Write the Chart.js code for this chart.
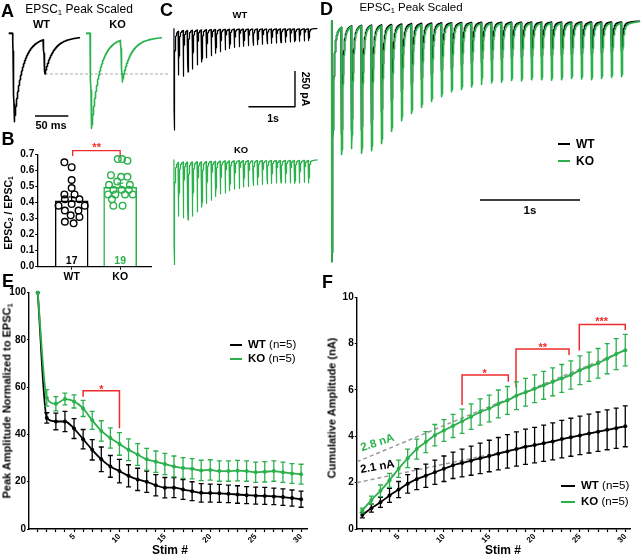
<!DOCTYPE html>
<html>
<head>
<meta charset="utf-8">
<script src="https://cdn.jsdelivr.net/npm/chart.js@4.4.1/dist/chart.umd.min.js"></script>
<style>
  body { margin: 0; background: #fff; }
  #fig { position: relative; width: 642px; height: 558px; overflow: hidden; font-family: "Liberation Sans", Arial, sans-serif; color: #000; }
  #fig canvas { position: absolute; }
  .t { position: absolute; white-space: nowrap; line-height: 1; transform: translate(-50%, -50%); }
  .t sub { font-size: 65%; line-height: 0; vertical-align: -0.25em; }
  .lg { position: absolute; height: 2px; }
</style>
</head>
<body>
<div id="fig"></div>
<script>
// ---- data ----
const stims = [1, 2, 3, 4, 5, 6, 7, 8, 9, 10, 11, 12, 13, 14, 15, 16, 17, 18, 19, 20, 21, 22, 23, 24, 25, 26, 27, 28, 29, 30];
const groups = ['WT', 'KO'];

// E: peak amplitude normalised to EPSC1 (%), mean and sem
const wtNorm = [100, 47, 45.5, 45.5, 42.5, 38, 33.5, 29.5, 26.5, 24.5, 22.5, 21, 20, 18.5, 17.5, 17.5, 16.7, 16, 15.3, 15.2, 15.1, 14.9, 14.6, 14.3, 14.1, 14, 13.8, 13.5, 13.1, 12.6];
const koNorm = [100, 55.5, 53, 55, 54, 51, 46, 41.5, 38.5, 36, 33.5, 31.5, 29.5, 28.5, 27.5, 26.5, 25.8, 25.5, 24.8, 25, 24.5, 24.5, 24.7, 24.5, 24, 24.2, 24.5, 24, 23.5, 23.2];
const wtNormSem = [0, 2.2, 3.5, 4.3, 4.2, 4.1, 4.3, 5.2, 4.6, 5, 4.7, 4.7, 4.5, 4.5, 4.3, 4.2, 4.2, 4, 3.9, 3.8, 3.8, 3.7, 3.7, 3.6, 3.6, 3.6, 3.5, 3.5, 3.4, 3.4];
const koNormSem = [0, 3.5, 3, 2.5, 2.8, 3.4, 3.8, 4.3, 4.3, 4.8, 4.6, 4.6, 4.6, 4.5, 4.5, 4.4, 4.4, 4.3, 4.3, 4.3, 4.3, 4.3, 4.3, 4.3, 4.3, 4.3, 4.3, 4.3, 4.2, 4.2];

// F: cumulative amplitude (nA)
const wtCum = [0.6, 0.9, 1.15, 1.45, 1.7, 1.95, 2.15, 2.3, 2.45, 2.6, 2.75, 2.85, 2.95, 3.05, 3.15, 3.25, 3.35, 3.45, 3.55, 3.62, 3.7, 3.78, 3.88, 3.96, 4.04, 4.12, 4.2, 4.28, 4.35, 4.43];
const koCum = [0.8, 1.25, 1.65, 2.1, 2.6, 3.05, 3.45, 3.75, 4.05, 4.25, 4.45, 4.65, 4.85, 5.05, 5.2, 5.4, 5.55, 5.75, 5.9, 6.05, 6.2, 6.35, 6.5, 6.65, 6.85, 7.0, 7.15, 7.35, 7.55, 7.72];
const wtCumSem = [0.12, 0.17, 0.22, 0.3, 0.35, 0.4, 0.45, 0.5, 0.52, 0.55, 0.57, 0.6, 0.63, 0.66, 0.68, 0.7, 0.72, 0.74, 0.76, 0.77, 0.78, 0.8, 0.81, 0.82, 0.83, 0.84, 0.85, 0.86, 0.87, 0.88];
const koCumSem = [0.1, 0.17, 0.25, 0.3, 0.37, 0.4, 0.43, 0.45, 0.46, 0.47, 0.5, 0.52, 0.55, 0.57, 0.58, 0.6, 0.6, 0.6, 0.6, 0.6, 0.6, 0.6, 0.6, 0.61, 0.62, 0.63, 0.64, 0.65, 0.67, 0.68];
// linear back-extrapolation of the late phase (stim #, nA)
const fitX = [0.4, 30];
const wtFit = [2.0, 4.45];
const koFit = [2.9, 7.72];

// B: paired pulse ratio
const barMeans = [0.41, 0.495];
const barSem = [0.025, 0.025];
const counts = [17, 19];
const wtRatio = [0.65, 0.62, 0.54, 0.49, 0.45, 0.45, 0.42, 0.42, 0.39, 0.38, 0.38, 0.35, 0.35, 0.32, 0.31, 0.28, 0.27];
const wtJitter = [-0.15, 0, 0, 0, -0.15, 0.06, -0.14, 0.16, 0, -0.27, 0.27, -0.14, 0.14, -0.02, 0.16, -0.14, 0.04];
const koRatio = [0.67, 0.67, 0.66, 0.57, 0.56, 0.56, 0.53, 0.51, 0.51, 0.48, 0.48, 0.48, 0.45, 0.45, 0.45, 0.45, 0.42, 0.38, 0.38];
const koJitter = [-0.05, 0.04, 0.15, -0.19, 0.02, 0.15, -0.06, -0.23, 0.2, -0.14, 0.03, 0.18, -0.25, -0.1, 0.1, 0.26, -0.17, -0.14, 0.05];

// A: paired pulse peaks (relative to WT EPSC1)
const aPeaksWT = [1.0, 0.46];
const aPeaksKO = [1.075, 0.55];

// C: single train peaks (pA)
const cPeaksWT = [712, 327, 335, 306, 285, 256, 235, 206, 192, 174, 164, 150, 140, 133, 128, 125, 121, 118, 114, 111, 108, 105, 103, 100, 97, 95, 93, 90, 88, 86];
const cPeaksKO = [740, 396, 407, 422, 396, 366, 333, 307, 285, 259, 241, 233, 218, 207, 202, 192, 189, 181, 178, 174, 170, 167, 164, 163, 163, 163, 167, 163, 159, 163];

// significance brackets [x, y]
const sigB = [[0.02, 0.69], [0.02, 0.723], [1, 0.723], [1, 0.69]];
const sigE = [[6, 56], [6, 58.5], [10, 58.5], [10, 42.6]];
const sigF1 = [[12, 5.35], [12, 6.65], [17.1, 6.65], [17.1, 6.36]];
const sigF2 = [[17.95, 6.12], [17.95, 7.77], [23.8, 7.77], [23.8, 7.51]];
const sigF3 = [[24.93, 7.7], [24.93, 8.83], [30, 8.83], [30, 8.59]];

const GREEN = '#2ab14c';
const RED = '#ee2b2b';
const FONT = '"Liberation Sans", Arial, sans-serif';

Chart.defaults.font.family = FONT;
Chart.defaults.color = '#000';

// ---- EPSC waveform (rise + fast/slow decay) ----
const RISE = 2.5, TAU_FAST = 12, TAU_SLOW = 90, SLOW = 0.08;

function kernel(t) {
    if (t < 0) return 0;
    if (t < RISE) return t / RISE;
    const u = t - RISE;
    return (1 - SLOW) * Math.exp(-u / TAU_FAST) + SLOW * Math.exp(-u / TAU_SLOW);
}

// peaks are the absolute levels reached, residual current is taken off each step
function buildTrace(peaks, onset, isi, tEnd, dt) {
    const starts = peaks.map((p, i) => onset + i * isi);
    const amps = [];
    const level = t => amps.reduce((s, a, j) => s + a * kernel(t - starts[j]), 0);
    peaks.forEach((p, i) => { amps[i] = Math.max(p - level(starts[i] + RISE), 0); });
    const times = [];
    for (let t = onset; t <= tEnd; t += dt) times.push(t);
    starts.forEach(s => times.push(s, s + RISE));
    times.sort((a, b) => a - b);
    return times.map(t => ({ x: t, y: -level(t) }));
}

const pts = (xs, ys) => xs.map((x, i) => ({ x, y: ys[i] }));
const pairs = arr => arr.map(p => ({ x: p[0], y: p[1] }));

// ---- plugins ----
const errorBars = {
    id: 'errorBars',
    beforeDatasetDraw(chart, args) {
        const ds = chart.data.datasets[args.index];
        if (!ds.errors) return;
        const { ctx, scales: { x, y } } = chart;
        const cap = ds.capHalf || 2.5;
        ctx.save();
        ctx.lineWidth = 1.3;
        ds.data.forEach((p, i) => {
            const e = ds.errors[i];
            if (!e) return;
            const c = ds.errColor || ds.borderColor;
            ctx.strokeStyle = Array.isArray(c) ? c[i] : c;
            const px = x.getPixelForValue(p.x);
            const hi = y.getPixelForValue(p.y + e);
            const lo = y.getPixelForValue(p.y - e);
            ctx.beginPath();
            ctx.moveTo(px, hi); ctx.lineTo(px, lo);
            ctx.moveTo(px - cap, hi); ctx.lineTo(px + cap, hi);
            ctx.moveTo(px - cap, lo); ctx.lineTo(px + cap, lo);
            ctx.stroke();
        });
        ctx.restore();
    }
};

const notes = {
    id: 'notes',
    afterDraw(chart, args, opts) {
        const { ctx, scales: { x, y } } = chart;
        (opts.items || []).forEach(n => {
            ctx.save();
            ctx.translate(x.getPixelForValue(n.x), y.getPixelForValue(n.y));
            ctx.rotate((n.rot || 0) * Math.PI / 180);
            ctx.font = `bold ${n.size}px ${FONT}`;
            ctx.fillStyle = n.color || '#000';
            ctx.textAlign = 'center';
            if (n.star) {
                ctx.textBaseline = 'alphabetic';
                ctx.fillText(n.text, 0, n.size * 0.57);
            } else {
                ctx.textBaseline = 'middle';
                ctx.fillText(n.text, 0, 0);
            }
            ctx.restore();
        });
    }
};
Chart.register(errorBars, notes);

// ---- page helpers ----
const fig = document.getElementById('fig');

function addCanvas(x, y, w, h) {
    const c = document.createElement('canvas');
    c.width = w; c.height = h;
    c.style.left = x + 'px'; c.style.top = y + 'px';
    c.style.width = w + 'px'; c.style.height = h + 'px';
    fig.appendChild(c);
    return c;
}

function label(html, cx, cy, size, opts = {}) {
    const d = document.createElement('div');
    d.className = 't';
    d.innerHTML = html;
    d.style.left = cx + 'px';
    d.style.top = cy + 'px';
    d.style.fontSize = size + 'px';
    if (opts.bold) d.style.fontWeight = 'bold';
    if (opts.color) d.style.color = opts.color;
    if (opts.align === 'left') d.style.transform = 'translate(0, -50%)';
    if (opts.rot) d.style.transform = `translate(-50%, -50%) rotate(${opts.rot}deg)`;
    fig.appendChild(d);
}

function legendRow(x0, x1, y, color, html, size) {
    const l = document.createElement('div');
    l.className = 'lg';
    l.style.left = x0 + 'px';
    l.style.width = (x1 - x0) + 'px';
    l.style.top = (y - 1) + 'px';
    l.style.background = color;
    fig.appendChild(l);
    label(html, x1 + 6, y, size, { align: 'left' });
}

const baseOpts = {
    responsive: false,
    animation: false,
    events: [],
};

function traceChart(canvas, xr, yr, datasets) {
    return new Chart(canvas, {
        type: 'line',
        data: { datasets },
        options: {
            ...baseOpts,
            parsing: false,
            layout: { padding: 0 },
            elements: { point: { radius: 0 }, line: { tension: 0, borderJoinStyle: 'round' } },
            plugins: { legend: { display: false }, tooltip: { enabled: false } },
            scales: {
                x: { type: 'linear', display: false, min: xr[0], max: xr[1] },
                y: { type: 'linear', display: false, min: yr[0], max: yr[1] }
            }
        }
    });
}

const trace = (data, color, width) => ({ data, borderColor: color, borderWidth: width, pointRadius: 0 });

// ---- A: paired pulses ----
traceChart(addCanvas(0, 0, 170, 135), [0, 255], [-1.15, 0.377], [
    trace([{ x: 13, y: 0 }, { x: 19, y: 0 }], '#000', 2),
    trace(buildTrace(aPeaksWT, 19, 46, 120, 0.25), '#000', 1.6),
    trace([{ x: 129, y: 0 }, { x: 135, y: 0 }], GREEN, 2),
    trace(buildTrace(aPeaksKO, 135, 46, 243, 0.25), GREEN, 1.6),
    trace([{ x: 52.5, y: -0.935 }, { x: 102.5, y: -0.935 }], '#000', 1.5),
    { ...trace([{ x: 67.5, y: -aPeaksWT[1] }, { x: 255, y: -aPeaksWT[1] }], '#aaa', 1), borderDash: [3, 2] }
]);

// ---- C: single trains ----
traceChart(addCanvas(160, 0, 160, 135), [0, 3441], [-747, 198], [
    trace(buildTrace(cPeaksWT, 300, 100, 3380, 2), '#000', 1.2),
    trace([{ x: 1903, y: -549 }, { x: 2903, y: -549 }, { x: 2903, y: -299 }], '#000', 1.4)
]);
traceChart(addCanvas(160, 135, 160, 130), [0, 3441], [-738.5, 171.5], [
    trace(buildTrace(cPeaksKO, 300, 100, 3380, 2), GREEN, 1.2)
]);

// ---- D: peak scaled averages ----
traceChart(addCanvas(320, 0, 322, 265), [0, 3220], [-101.4, 8.6], [
    trace(buildTrace(koNorm, 117, 100, 3200, 1), GREEN, 1.6),
    trace(buildTrace(wtNorm, 117, 100, 3200, 1), '#000', 1.6),
    trace([{ x: 1600, y: -74.4 }, { x: 2600, y: -74.4 }], '#000', 1.5)
]);

// ---- B: PPR bars ----
new Chart(addCanvas(0, 125, 160, 160), {
    type: 'bar',
    data: {
        datasets: [
            { type: 'line', data: pairs(sigB), borderColor: RED, borderWidth: 1.3, pointRadius: 0, tension: 0, clip: false },
            { type: 'scatter', data: pts(koJitter.map(j => 1 + j), koRatio), borderColor: GREEN, backgroundColor: 'rgba(255,255,255,0)', pointRadius: 3.3, borderWidth: 1.4, clip: false },
            { type: 'scatter', data: pts(wtJitter.map(j => 0 + j), wtRatio), borderColor: '#000', backgroundColor: 'rgba(255,255,255,0)', pointRadius: 3.3, borderWidth: 1.4, clip: false },
            { type: 'bar', data: pts([0, 1], barMeans), errors: barSem, errColor: ['#000', GREEN], capHalf: 3,
              backgroundColor: '#fff', borderColor: ['#000', GREEN], borderWidth: 1.5, barThickness: 33 }
        ]
    },
    options: {
        ...baseOpts,
        layout: { padding: { top: 29.3, right: 8.3, left: 0, bottom: 0 } },
        plugins: {
            legend: { display: false }, tooltip: { enabled: false },
            notes: { items: [
                { x: 0, y: 0.032, text: String(counts[0]), size: 10.5 },
                { x: 1, y: 0.032, text: String(counts[1]), size: 10.5, color: GREEN },
                { x: 0.515, y: 0.758, text: '**', size: 11, color: RED, star: true }
            ] }
        },
        scales: {
            x: {
                type: 'linear', min: -0.7, max: 1.65, offset: false,
                afterBuildTicks: s => { s.ticks = groups.map((g, i) => ({ value: i })); },
                afterFit: s => { s.height = 18.3; },
                ticks: { autoSkip: false, maxRotation: 0, padding: 1, font: { size: 10.5, weight: 'bold' }, callback: v => groups[v] },
                grid: { offset: false, drawOnChartArea: false, tickLength: 3, tickColor: '#000' },
                border: { color: '#000', width: 1.3 }
            },
            y: {
                min: 0, max: 0.7,
                afterFit: s => { s.width = 37.7; },
                ticks: { stepSize: 0.1, padding: 1, font: { size: 10, weight: 'bold' }, callback: v => v.toFixed(1) },
                grid: { drawOnChartArea: false, tickLength: 2.5, tickColor: '#000' },
                border: { color: '#000', width: 1.3 }
            }
        }
    }
});

// ---- E and F: stim trains ----
function stimAxis(min, max) {
    return {
        type: 'linear', min, max,
        afterBuildTicks: s => { s.ticks = stims.map(v => ({ value: v })); },
        afterFit: s => { s.height = 29; },
        ticks: { autoSkip: false, minRotation: 45, maxRotation: 45, padding: 0, font: { size: 8, weight: 'bold' }, callback: v => (v % 5 === 0 ? v : '') },
        grid: { drawOnChartArea: false, tickLength: 3, tickColor: '#000', tickWidth: 1.2 },
        border: { color: '#000', width: 1.4 }
    };
}

function valueAxis(max, step, width) {
    return {
        min: 0, max,
        afterFit: s => { s.width = width; },
        ticks: { stepSize: step, padding: 1, font: { size: 10, weight: 'bold' } },
        grid: { drawOnChartArea: false, tickLength: 2, tickColor: '#000' },
        border: { color: '#000', width: 1.4 }
    };
}

const meanLine = (data, errors, color) => ({
    data, errors, borderColor: color, backgroundColor: color, borderWidth: 1.8,
    pointRadius: 2, pointBorderWidth: 0, cubicInterpolationMode: 'monotone', clip: false
});
const plainLine = (data, color, width) => ({ data, borderColor: color, borderWidth: width, pointRadius: 0, tension: 0, clip: false });

new Chart(addCanvas(0, 270, 320, 288), {
    type: 'line',
    data: {
        datasets: [
            meanLine(pts(stims, koNorm), koNormSem, GREEN),
            meanLine(pts(stims, wtNorm), wtNormSem, '#000'),
            plainLine(pairs(sigE), RED, 1.5)
        ]
    },
    options: {
        ...baseOpts,
        layout: { padding: { top: 22.7, right: 13, left: 0, bottom: 0 } },
        plugins: {
            legend: { display: false }, tooltip: { enabled: false },
            notes: { items: [{ x: 8, y: 60.2, text: '*', size: 11, color: RED, star: true }] }
        },
        scales: { x: stimAxis(0.04, 30.65), y: valueAxis(100, 20, 29) }
    }
});

new Chart(addCanvas(320, 270, 322, 288), {
    type: 'line',
    data: {
        datasets: [
            meanLine(pts(stims, koCum), koCumSem, GREEN),
            meanLine(pts(stims, wtCum), wtCumSem, '#000'),
            plainLine(pairs(sigF1), RED, 1.5),
            plainLine(pairs(sigF2), RED, 1.5),
            plainLine(pairs(sigF3), RED, 1.5),
            { ...plainLine(pts(fitX, koFit), '#999', 1.5), borderDash: [4, 3] },
            { ...plainLine(pts(fitX, wtFit), '#999', 1.5), borderDash: [4, 3] }
        ]
    },
    options: {
        ...baseOpts,
        layout: { padding: { top: 27.3, right: 11.3, left: 0, bottom: 0 } },
        plugins: {
            legend: { display: false }, tooltip: { enabled: false },
            notes: { items: [
                { x: 14.5, y: 6.82, text: '*', size: 11, color: RED, star: true },
                { x: 20.9, y: 7.94, text: '**', size: 11, color: RED, star: true },
                { x: 27.4, y: 9.09, text: '***', size: 11, color: RED, star: true },
                { x: 2.67, y: 3.72, text: '2.8 nA', size: 11.5, color: GREEN, rot: -18 },
                { x: 2.67, y: 2.68, text: '2.1 nA', size: 11.5, rot: -10 }
            ] }
        },
        scales: { x: stimAxis(0.38, 30.6), y: valueAxis(10, 2, 36.7) }
    }
});

// ---- text ----
label('A', 7.5, 11, 18, { bold: true });
label('EPSC<sub>1</sub> Peak Scaled', 79, 8.5, 12);
label('WT', 41.5, 24, 11, { bold: true });
label('KO', 117.5, 24, 11, { bold: true });
label('50 ms', 51, 125, 11, { bold: true });

label('B', 8, 139, 18, { bold: true });
label('EPSC<sub>2</sub> / EPSC<sub>1</sub>', 7.5, 213, 10.5, { bold: true, rot: -90 });

label('C', 166.5, 9.5, 18, { bold: true });
label('WT', 240, 15, 9.5, { bold: true });
label('KO', 241, 150, 9.5, { bold: true });
label('250 pA', 306, 89, 10.5, { bold: true, rot: 90 });
label('1s', 273, 117.5, 10.5, { bold: true });

label('D', 326.5, 9, 18, { bold: true });
label('EPSC<sub>1</sub> Peak Scaled', 411, 8, 11.5);
legendRow(558, 570, 144, '#000', '<b>WT</b>', 12);
legendRow(558, 570, 161, GREEN, '<b>KO</b>', 12);
label('1s', 530, 211, 11.5, { bold: true });

label('E', 8, 281, 18, { bold: true });
label('Peak Amplitude Normalized to EPSC<sub>1</sub>', 6.5, 401, 11, { bold: true, rot: -90 });
label('Stim #', 170, 550, 12, { bold: true });
legendRow(230, 242, 345, '#000', '<b>WT</b> (n=5)', 11.5);
legendRow(230, 242, 359, GREEN, '<b>KO</b> (n=5)', 11.5);

label('F', 327.5, 281.5, 18, { bold: true });
label('Cumulative Amplitude (nA)', 331.5, 408, 11, { bold: true, rot: -90 });
label('Stim #', 503, 550, 12, { bold: true });
legendRow(560.7, 575, 486, '#000', '<b>WT</b> (n=5)', 11.5);
legendRow(560.7, 575, 501.7, GREEN, '<b>KO</b> (n=5)', 11.5);
</script>
</body>
</html>
